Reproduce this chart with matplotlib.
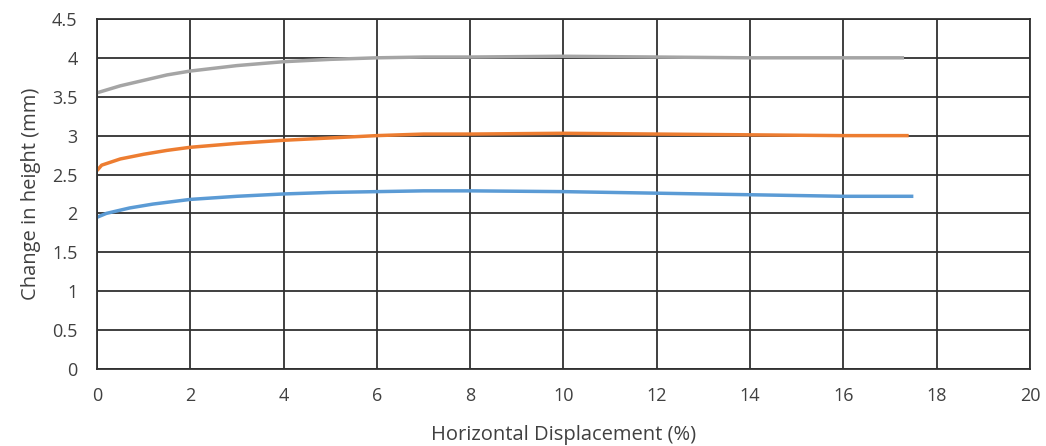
import matplotlib
matplotlib.use("Agg")
import matplotlib.pyplot as plt

plt.rcParams['font.family'] = ['Open Sans', 'DejaVu Sans']

# displacement (%) and change in height (mm) per curve
x_grey = [0, 0.5, 1, 1.5, 2, 3, 4, 5, 6, 7, 8, 10, 12, 14, 16, 17.3]
y_grey = [3.55, 3.64, 3.71, 3.78, 3.83, 3.9, 3.95, 3.98, 4.0, 4.01, 4.01, 4.02, 4.01, 4.0, 4.0, 4.0]

x_orange = [0, 0.1, 0.5, 1, 1.5, 2, 3, 4, 5, 6, 7, 8, 10, 12, 14, 16, 17.4]
y_orange = [2.55, 2.62, 2.7, 2.76, 2.81, 2.85, 2.9, 2.94, 2.97, 3.0, 3.02, 3.02, 3.03, 3.02, 3.01, 3.0, 3.0]

x_blue = [0, 0.2, 0.7, 1.2, 2, 3, 4, 5, 6, 7, 8, 10, 12, 14, 16, 17.5]
y_blue = [1.95, 2.0, 2.07, 2.12, 2.18, 2.22, 2.25, 2.27, 2.28, 2.29, 2.29, 2.28, 2.26, 2.24, 2.22, 2.22]

xticks = list(range(0, 21, 2))
yticks = [0, 0.5, 1, 1.5, 2, 2.5, 3, 3.5, 4, 4.5]

fig = plt.figure(figsize=(10.46, 4.46), dpi=100)
ax = fig.add_axes([0.0927, 0.1726, 0.892, 0.785])

ax.plot(x_blue, y_blue, color='#5B9BD5', lw=2.5, solid_capstyle='butt')
ax.plot(x_orange, y_orange, color='#ED7D31', lw=2.5, solid_capstyle='butt')
ax.plot(x_grey, y_grey, color='#A5A5A5', lw=2.5, solid_capstyle='butt')

ax.set_xlim(0, 20)
ax.set_ylim(0, 4.5)
ax.set_xticks(xticks)
ax.set_yticks(yticks)
ax.set_yticklabels([f'{v:g}' for v in yticks])
ax.set_axisbelow(True)
ax.grid(True, color='#303030', lw=1.3)
for s in ax.spines.values():
    s.set_color('#303030')
    s.set_linewidth(1.3)
ax.tick_params(axis='y', length=0, labelsize=13, colors='#404040', pad=14)
ax.tick_params(axis='x', length=0, labelsize=13, colors='#404040', pad=13)

ax.set_xlabel('Horizontal Displacement (%)', fontsize=14.5, color='#404040', labelpad=14)
ax.set_ylabel('Change in height (mm)', fontsize=14.5, color='#404040', labelpad=8)

fig.savefig('out.png', dpi=100)
